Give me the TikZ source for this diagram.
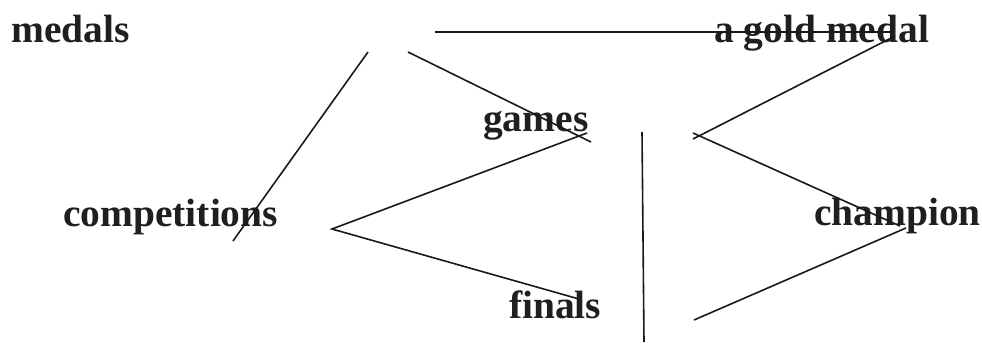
\documentclass[tikz,border=0pt]{standalone}
\usepackage{fontspec}
\setmainfont{Liberation Serif}
\begin{document}
\begin{tikzpicture}[x=1bp,y=-1bp,
  word/.style={anchor=base west,inner sep=0pt,font=\fontsize{39.6}{42}\selectfont\bfseries,text=black!88},
  link/.style={line width=1.6bp,black!90}]
\useasboundingbox[fill=white] (0,0) rectangle (982,342);
% words
\node[word] (medals) at (11,42) {medals};
\node[word] (gold) at (714,42) {a gold medal};
\node[word] (games) at (483,131) {games};
\node[word] (comp) at (63,226) {competitions};
\node[word] (champ) at (814,225) {champion};
\node[word] (finals) at (509,318) {finals};
% connector end points
\coordinate (h1) at (435,32);
\coordinate (h2) at (892,32);
\coordinate (m1) at (368,52);
\coordinate (m2) at (233,241);
\coordinate (m3) at (408,52);
\coordinate (m4) at (591,142);
\coordinate (c0) at (332,229);
\coordinate (c1) at (587,133);
\coordinate (c2) at (579,299);
\coordinate (v1) at (642,132);
\coordinate (v2) at (644,342);
\coordinate (g0) at (693,139);
\coordinate (g1) at (895,36);
\coordinate (p0) at (693,133);
\coordinate (p1) at (900,226);
\coordinate (f0) at (694,320);
\coordinate (f1) at (906,228);
% connectors
\draw[link] (h1) -- (h2);
\draw[link] (m1) -- (m2);
\draw[link] (m3) -- (m4);
\draw[link] (c1) -- (c0) -- (c2);
\draw[link] (v1) -- (v2);
\draw[link] (g0) -- (g1);
\draw[link] (p0) -- (p1);
\draw[link] (f0) -- (f1);
\end{tikzpicture}
\end{document}
